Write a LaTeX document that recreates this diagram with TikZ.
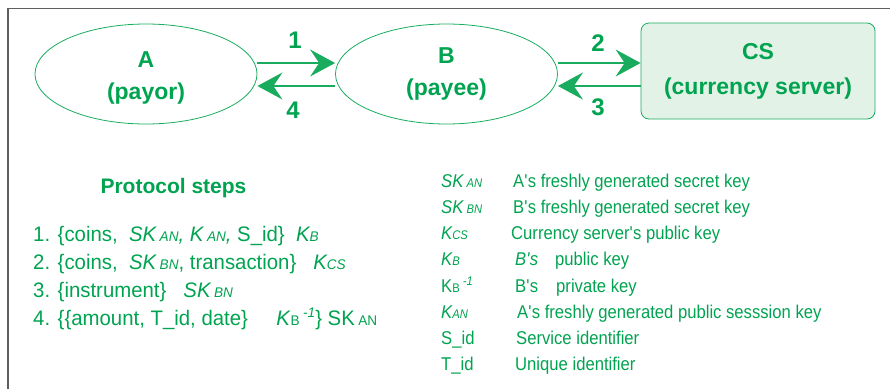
\documentclass[tikz,border=0pt]{standalone}
\usepackage{fontspec}
\setmainfont{Liberation Sans}
\usetikzlibrary{shapes.geometric,arrows.meta}

\definecolor{pgreen}{RGB}{0,163,80}
\definecolor{pline}{RGB}{25,172,95}
\definecolor{pfill}{RGB}{227,242,231}
\definecolor{pframe}{RGB}{95,95,95}

% small "subscript" letters set on the baseline
\newcommand\psub[1]{{\fontsize{14}{14}\selectfont #1}}
\newcommand\lsub[1]{{\fontsize{12.5}{12.5}\selectfont #1}}
\newcommand\ap{\textquotesingle}
% lower a line of a node label without changing the label's box
\newcommand\dropline[1]{\raisebox{-4pt}[\height][\depth]{#1}}

\begin{document}
\begin{tikzpicture}[x=1pt,y=-1pt,
  party/.style={ellipse,draw=pline,line width=0.8pt,minimum width=222pt,
    minimum height=100pt,inner sep=0pt,text=pgreen,align=center,
    font=\fontsize{23}{32}\selectfont\bfseries},
  server/.style={rectangle,rounded corners=8pt,draw=pline,line width=0.8pt,
    fill=pfill,minimum width=234pt,minimum height=96pt,inner sep=0pt,
    text=pgreen,align=center,font=\fontsize{23}{35}\selectfont\bfseries},
  conn/.style={draw=pline,line width=1.2pt,
    -{Stealth[length=25pt,width=27pt,inset=9pt]}},
  steplabel/.style={text=pgreen,inner sep=0pt,
    font=\fontsize{24}{24}\selectfont\bfseries},
  stepline/.style={anchor=base west,text=pgreen,inner sep=0pt,
    font=\fontsize{21}{21}\selectfont\addfontfeatures{FakeStretch=0.97}},
  legline/.style={anchor=base west,text=pgreen,inner sep=0pt,
    font=\fontsize{18.5}{18.5}\selectfont\addfontfeatures{FakeStretch=0.9}}]

\useasboundingbox (0,0) rectangle (890,389);

% frame
\draw[pframe,line width=1.3pt] (8,389) -- (8,8.5) -- (890,8.5);

% parties
\node[party]  (A)  at (146,74)   {\dropline{A}\\\dropline{(payor)}};
\node[party]  (B)  at (446.5,74) {B\\(payee)};
\node[server] (CS) at (758,71)   {CS\\(currency server)};

% messages
\draw[conn] ([yshift=11pt]A.east) -- ([yshift=11pt]B.west);
\draw[conn] ([yshift=-12pt]B.west) -- ([yshift=-12pt]A.east);
\draw[conn] ([yshift=11pt]B.east) -- ([yshift=11pt]B.east -| CS.west);
\draw[conn] ([yshift=-12pt]B.east -| CS.west) -- ([yshift=-12pt]B.east);

\node[steplabel] (n1) at (295,40)  {1};
\node[steplabel] (n4) at (293,110) {4};
\node[steplabel] (n2) at (598,43)  {2};
\node[steplabel] (n3) at (598,107) {3};

% protocol steps
\node[anchor=base,text=pgreen,inner sep=0pt,
  font=\fontsize{21}{21}\selectfont\bfseries] (title) at (173.5,193) {Protocol steps};
\node[stepline] (s1) at (33,241)
  {1. \{coins,\ \ \textit{SK\,\psub{AN}, K\,\psub{AN},} S\_id\}\ \ \textit{K\psub{B}}};
\node[stepline] (s2) at (33,269)
  {2. \{coins,\ \ \textit{SK\,\psub{BN}}, transaction\}\ \ \ \textit{K\psub{CS}}};
\node[stepline] (s3) at (33,297)
  {3. \{instrument\}\ \ \ \textit{SK\,\psub{BN}}};
\node[stepline] (s4) at (33,325)
  {4. \{\{amount, T\_id, date\}\ \ \ \ \ \textit{K}\psub{B}\,\raisebox{8pt}{\psub{\textit{-1}}}\} SK\,\psub{AN}};

% key legend
\node[legline] (k1) at (441,187) {\textit{SK\,\lsub{AN}}};
\node[legline] (d1) at (513,187) {A\ap s freshly generated secret key};
\node[legline] (k2) at (441,213) {\textit{SK\,\lsub{BN}}};
\node[legline] (d2) at (513,213) {B\ap s freshly generated secret key};
\node[legline] (k3) at (441,239) {\textit{K\lsub{CS}}};
\node[legline] (d3) at (511,239) {Currency server\ap s public key};
\node[legline] (k4) at (441,265) {\textit{K\lsub{B}}};
\node[legline] (d4) at (515,265) {\textit{B\ap s}};
\node[legline] (e4) at (555,265) {public key};
\node[legline] (k5) at (441,292) {K\lsub{B}\,\raisebox{7pt}{\lsub{\textit{-1}}}};
\node[legline] (d5) at (515,292) {B\ap s};
\node[legline] (e5) at (556,292) {private key};
\node[legline] (k6) at (441,318) {\textit{K\lsub{AN}}};
\node[legline] (d6) at (517,318) {A\ap s freshly generated public sesssion key};
\node[legline] (k7) at (441,344) {S\_id};
\node[legline] (d7) at (516,344) {Service identifier};
\node[legline] (k8) at (441,370) {T\_id};
\node[legline] (d8) at (515,370) {Unique identifier};
\end{tikzpicture}
\end{document}
